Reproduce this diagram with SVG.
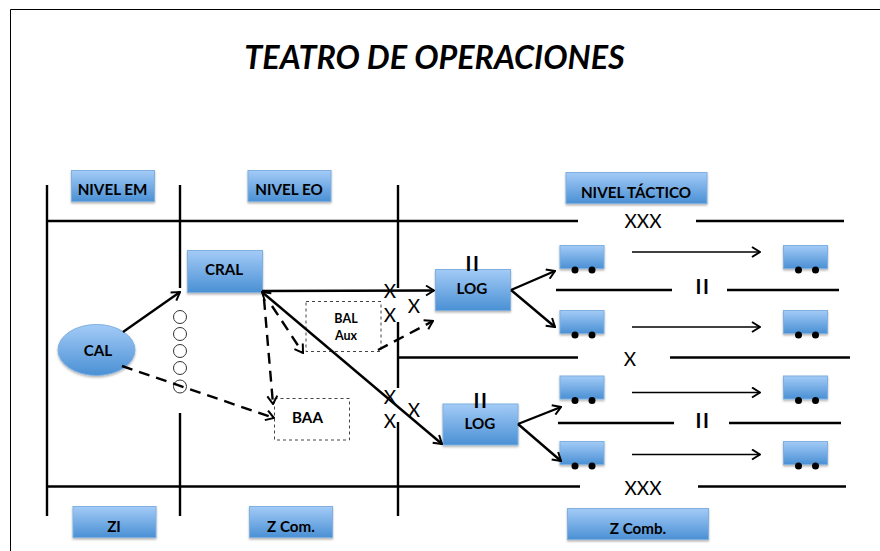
<svg xmlns="http://www.w3.org/2000/svg" width="880" height="551" viewBox="0 0 880 551">
<defs>
<linearGradient id="g" x1="0" y1="0" x2="0" y2="1"><stop offset="0" stop-color="#a3cbf7"/><stop offset="1" stop-color="#4a90d4"/></linearGradient>
<filter id="s" x="-10%" y="-10%" width="120%" height="130%"><feDropShadow dx="0" dy="1.5" stdDeviation="1" flood-color="#000" flood-opacity="0.3"/></filter>
<marker id="a" viewBox="0 0 12 12" refX="11" refY="6" markerWidth="12" markerHeight="12" markerUnits="userSpaceOnUse" orient="auto"><path d="M3 1 L11 6 L3 11" fill="none" stroke="#000" stroke-width="2"/></marker>
<marker id="b" viewBox="0 0 12 12" refX="1" refY="6" markerWidth="12" markerHeight="12" markerUnits="userSpaceOnUse" orient="auto"><path d="M9 1 L1 6 L9 11" fill="none" stroke="#000" stroke-width="2"/></marker>
</defs>
<style>
text{font-family:Lato,"Open Sans",sans-serif;fill:#000}
.box{fill:url(#g);stroke:#7fb0e0;stroke-width:1;filter:url(#s)}
.lb{font-weight:700;font-size:15.200px;text-anchor:middle}
.m{font-size:19px;font-weight:400;text-anchor:middle}
.ii{font-size:20px;font-weight:700;letter-spacing:1.500px;text-anchor:middle}
.l{stroke:#000;stroke-width:2.400;fill:none}
.ar{stroke:#000;stroke-width:2.400;fill:none;marker-end:url(#a)}
.da{stroke:#000;stroke-width:2.400;fill:none;stroke-dasharray:11 7;marker-end:url(#a)}
.thin{stroke:#000;stroke-width:1.300;fill:none;marker-end:url(#a)}
.db{fill:#fff;stroke:#444;stroke-width:1;stroke-dasharray:3 3}
.c{fill:#fff;stroke:#333;stroke-width:1}
</style>
<path d="M10.500 551V9.500H880" fill="none" stroke="#000" stroke-width="1"/>
<text x="434.500" y="69" font-size="32.300" font-weight="700" font-style="italic" text-anchor="middle">TEATRO DE OPERACIONES</text>
<g id="connectors-lines">
<path class="l" d="M47 185V516M180 185V288M180 413V516M398 185V288M398 322V388M398 422V516"/>
<path class="l" d="M48 221H578M696 221H844M48 486.500H580M698 486.500H846M398 357.500H578M670 357.500H850"/>
<path class="l" d="M556 290H672M727 290H839M558 423H674M729 423H841"/>
</g>
<g id="circles"><circle class="c" cx="180" cy="317" r="6.500"/><circle class="c" cx="180" cy="334" r="6.500"/><circle class="c" cx="180" cy="351" r="6.500"/><circle class="c" cx="180" cy="368" r="6.500"/><circle class="c" cx="180" cy="386.500" r="6.500"/></g>
<g id="n-em"><rect class="box" x="71.500" y="170.500" width="83" height="31"/><text class="lb" x="112.500" y="194.500">NIVEL EM</text></g>
<g id="n-eo"><rect class="box" x="248" y="170.500" width="83" height="31"/><text class="lb" x="289" y="194.500">NIVEL EO</text></g>
<g id="n-tac"><rect class="box" x="566" y="172.500" width="141" height="31"/><text class="lb" x="636" y="197.500">NIVEL TÁCTICO</text></g>
<g id="n-zi"><rect class="box" x="73" y="506.500" width="83" height="31"/><text class="lb" x="114" y="531.500">ZI</text></g>
<g id="n-zcom"><rect class="box" x="249.500" y="506.500" width="83" height="31"/><text class="lb" x="291" y="531.500">Z Com.</text></g>
<g id="n-zcomb"><rect class="box" x="567.500" y="508.500" width="141" height="31"/><text class="lb" x="638" y="533.500">Z Comb.</text></g>
<g id="cral"><rect class="box" x="187.500" y="250.500" width="75" height="42"/><text class="lb" x="224" y="275">CRAL</text></g>
<g id="cal"><ellipse class="box" cx="96.500" cy="350" rx="38.500" ry="25.500"/><text class="lb" x="98" y="356">CAL</text></g>
<g id="bal"><rect class="db" x="306" y="301.500" width="75" height="50"/><text x="346" y="323" font-size="12.500" font-weight="700" text-anchor="middle">BAL</text><text x="346" y="340" font-size="12.500" font-weight="700" text-anchor="middle">Aux</text></g>
<g id="baa"><rect class="db" x="274.500" y="398.500" width="75" height="41.500"/><text class="lb" x="307.500" y="423">BAA</text></g>
<g id="log1"><rect class="box" x="435.500" y="269.500" width="75" height="41"/><text class="lb" x="472" y="293.500">LOG</text></g>
<g id="log2"><rect class="box" x="443" y="404" width="75" height="41"/><text class="lb" x="480" y="428.500">LOG</text></g>
<g id="tr1"><rect class="box" x="560" y="245.500" width="44" height="23"/><circle cx="575" cy="270" r="3.500"/><circle cx="592" cy="270" r="3.500"/></g>
<g id="tr2"><rect class="box" x="783.500" y="245.500" width="44" height="23"/><circle cx="798.500" cy="270" r="3.500"/><circle cx="815.500" cy="270" r="3.500"/></g>
<g id="tr3"><rect class="box" x="560" y="310.500" width="44" height="23"/><circle cx="575" cy="335" r="3.500"/><circle cx="592" cy="335" r="3.500"/></g>
<g id="tr4"><rect class="box" x="783.500" y="310.500" width="44" height="23"/><circle cx="798.500" cy="335" r="3.500"/><circle cx="815.500" cy="335" r="3.500"/></g>
<g id="tr5"><rect class="box" x="560" y="376" width="44" height="23"/><circle cx="575" cy="400.500" r="3.500"/><circle cx="592" cy="400.500" r="3.500"/></g>
<g id="tr6"><rect class="box" x="783.500" y="376" width="44" height="23"/><circle cx="798.500" cy="400.500" r="3.500"/><circle cx="815.500" cy="400.500" r="3.500"/></g>
<g id="tr7"><rect class="box" x="560" y="441.500" width="44" height="23"/><circle cx="575" cy="466" r="3.500"/><circle cx="592" cy="466" r="3.500"/></g>
<g id="tr8"><rect class="box" x="783.500" y="441.500" width="44" height="23"/><circle cx="798.500" cy="466" r="3.500"/><circle cx="815.500" cy="466" r="3.500"/></g>
<g id="connectors">
<path class="ar" d="M123 332L180 292"/>
<path class="da" d="M122 366L274 418"/>
<path class="ar" d="M262 291L434 290.500"/>
<path class="ar" d="M262 292L442 444" marker-start="url(#b)"/>
<path class="da" d="M264 299L273 404"/>
<path class="da" d="M272 306L303 353"/>
<path class="da" d="M378 350L433 321"/>
<path class="ar" d="M511 290L555 271"/>
<path class="ar" d="M511 290L555 327"/>
<path class="ar" d="M518 424L561 407"/>
<path class="ar" d="M518 424L561 461"/>
<path class="thin" d="M632 252H760"/><path class="thin" d="M632 327H760"/><path class="thin" d="M632 392.500H760"/><path class="thin" d="M632 454.500H760"/>
</g>
<g id="marks">
<text class="m" x="643" y="228">XXX</text><text class="m" x="643" y="495">XXX</text>
<text class="m" x="630" y="366">X</text>
<text class="ii" x="703" y="294">II</text><text class="ii" x="703" y="428">II</text>
<text class="ii" x="473" y="271">II</text><text class="ii" x="481" y="408">II</text>
<text class="m" x="390" y="298">X</text><text class="m" x="390" y="322">X</text><text class="m" x="414" y="313">X</text>
<text class="m" x="390" y="404">X</text><text class="m" x="390" y="428">X</text><text class="m" x="414" y="417">X</text>
</g>
</svg>
